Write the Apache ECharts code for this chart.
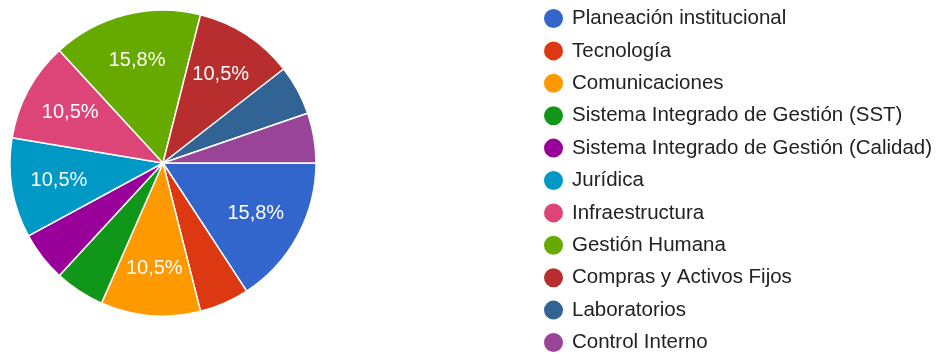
<!DOCTYPE html>
<html>
<head>
<meta charset="utf-8">
<script src="https://cdn.jsdelivr.net/npm/echarts@6/dist/echarts.min.js"></script>
<style>
  html, body { margin: 0; padding: 0; background: #fff; }
  #chart { width: 937px; height: 354px; }
</style>
</head>
<body>
<div id="chart"></div>
<script>
// Áreas y número de respuestas
const categories = [
  'Planeación institucional',
  'Tecnología',
  'Comunicaciones',
  'Sistema Integrado de Gestión (SST)',
  'Sistema Integrado de Gestión (Calidad)',
  'Jurídica',
  'Infraestructura',
  'Gestión Humana',
  'Compras y Activos Fijos',
  'Laboratorios',
  'Control Interno'
];
const counts = [3, 1, 2, 1, 1, 2, 2, 3, 2, 1, 1];
const colors = ['#3366cc', '#dc3912', '#ff9900', '#109618', '#990099', '#0099c6',
                '#dd4477', '#66aa00', '#b82e2e', '#316395', '#994499'];

const total = counts.reduce((a, b) => a + b, 0);
const data = categories.map((name, i) => ({ name, value: counts[i] }));
const pctText = v => (v / total * 100).toFixed(1).replace('.', ',') + '%';

const center = [163, 163];
const R = 153;

const chart = echarts.init(document.getElementById('chart'), null, { renderer: 'canvas' });
chart.setOption({
  animation: false,
  color: colors,
  legend: {
    orient: 'vertical',
    left: 542,
    top: 7,
    height: 347,
    padding: 0,
    icon: 'circle',
    itemWidth: 21,
    itemHeight: 21,
    itemGap: 9.4,
    selectedMode: false,
    textStyle: {
      fontFamily: 'Liberation Sans, Arial, sans-serif',
      fontSize: 20.5,
      color: '#222',
      padding: [0, 0, 0, 3]
    },
    data: categories
  },
  series: [
    {
      type: 'pie',
      center: center,
      radius: [0, R],
      startAngle: 0,
      clockwise: true,
      label: { show: false },
      labelLine: { show: false },
      itemStyle: { borderColor: '#fff', borderWidth: 1.5 },
      emphasis: { disabled: true },
      data: data
    },
    {
      // transparent ring used only to place the percentage labels further out
      type: 'pie',
      center: center,
      radius: [52, R],
      startAngle: 0,
      clockwise: true,
      silent: true,
      itemStyle: { color: 'rgba(0,0,0,0)', borderWidth: 0 },
      labelLine: { show: false },
      label: {
        show: true,
        position: 'inside',
        color: '#fff',
        fontFamily: 'Liberation Sans, Arial, sans-serif',
        fontSize: 20,
        formatter: p => (p.value / total >= 0.1 ? pctText(p.value) : '')
      },
      emphasis: { disabled: true },
      data: data
    }
  ]
});
</script>
</body>
</html>
